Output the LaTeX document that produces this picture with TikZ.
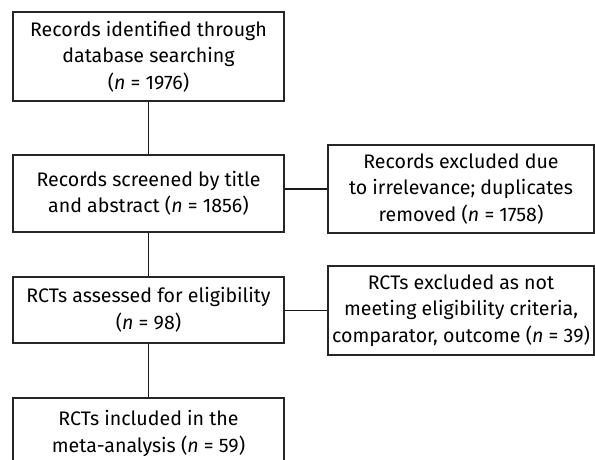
\documentclass[tikz,border=0pt]{standalone}
\usepackage{fontspec}
\setmainfont{Fira Sans}
\begin{document}
\begin{tikzpicture}[x=1pt,y=-1pt,
  box/.style={draw=black!85, line width=1.4pt, align=center, inner sep=0pt,
    font=\fontsize{19.6}{26.5}\selectfont},
  lbox/.style={box, minimum width=271pt},
  rbox/.style={box, minimum width=266pt},
  conn/.style={draw=black!90, line width=1.4pt}]
\useasboundingbox (0,0) rectangle (595,460);
\clip (0,0) rectangle (595,460);
\node[lbox, minimum height=89pt] (b1) at (148.5,56.5) {Records identified through\\database searching\\(\textit{n} = 1976)};
\node[lbox, minimum height=77pt] (b2) at (148.5,193.5) {Records screened by title\\and abstract (\textit{n} = 1856)};
\node[lbox, minimum height=66pt] (b3) at (148.5,310) {RCTs assessed for eligibility\\(\textit{n} = 98)};
\node[lbox, minimum height=71pt] (b4) at (148.5,433.5) {RCTs included in the\\meta-analysis (\textit{n} = 59)};
\node[rbox, minimum height=88pt] (r1) at (461,189) {Records excluded due\\to irrelevance; duplicates\\removed (\textit{n} = 1758)};
\node[rbox, minimum height=89pt] (r2) at (461,310.5) {RCTs excluded as not\\meeting eligibility criteria,\\comparator, outcome (\textit{n} = 39)};
\draw[conn] (b1) -- (b2);
\draw[conn] (b2) -- (b3);
\draw[conn] (b3) -- (b4);
\draw[conn] (r1.west -| b2.east) -- (r1.west);
\draw[conn] (r2.west -| b3.east) -- (r2.west);
\end{tikzpicture}
\end{document}
